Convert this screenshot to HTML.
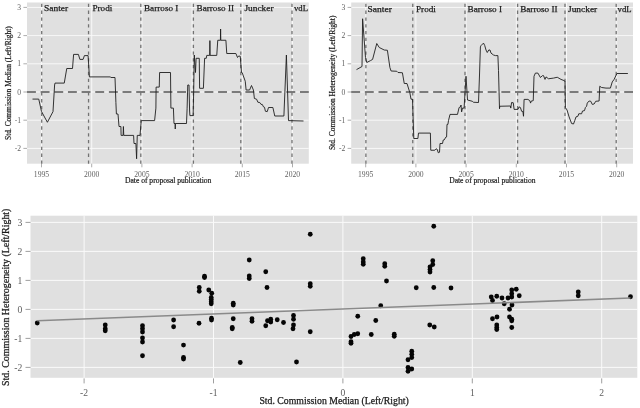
<!DOCTYPE html>
<html><head><meta charset="utf-8"><title>Commission plots</title>
<style>html,body{margin:0;padding:0;background:#fff;}svg{display:block;}text{font-family:"Liberation Serif",serif;}</style>
</head><body>
<svg width="640" height="408" viewBox="0 0 640 408">
<rect x="0" y="0" width="640" height="408" fill="#ffffff"/>
<g opacity="0.999">
<g>
<rect x="27.00" y="2.5" width="281.80" height="161.20" fill="#e0e0e0"/>
<line x1="27.00" x2="308.80" y1="7.40" y2="7.40" stroke="#fafafa" stroke-width="0.9"/>
<line x1="23.40" x2="27.00" y1="7.40" y2="7.40" stroke="#757575" stroke-width="0.6"/>
<text x="21.10" y="9.95" font-size="7.6" fill="#5f5f5f" text-anchor="end">3</text>
<line x1="27.00" x2="308.80" y1="35.60" y2="35.60" stroke="#fafafa" stroke-width="0.9"/>
<line x1="23.40" x2="27.00" y1="35.60" y2="35.60" stroke="#757575" stroke-width="0.6"/>
<text x="21.10" y="38.15" font-size="7.6" fill="#5f5f5f" text-anchor="end">2</text>
<line x1="27.00" x2="308.80" y1="63.80" y2="63.80" stroke="#fafafa" stroke-width="0.9"/>
<line x1="23.40" x2="27.00" y1="63.80" y2="63.80" stroke="#757575" stroke-width="0.6"/>
<text x="21.10" y="66.35" font-size="7.6" fill="#5f5f5f" text-anchor="end">1</text>
<line x1="27.00" x2="308.80" y1="92.00" y2="92.00" stroke="#fafafa" stroke-width="0.9"/>
<line x1="23.40" x2="27.00" y1="92.00" y2="92.00" stroke="#757575" stroke-width="0.6"/>
<text x="21.10" y="94.55" font-size="7.6" fill="#5f5f5f" text-anchor="end">0</text>
<line x1="27.00" x2="308.80" y1="120.20" y2="120.20" stroke="#fafafa" stroke-width="0.9"/>
<line x1="23.40" x2="27.00" y1="120.20" y2="120.20" stroke="#757575" stroke-width="0.6"/>
<text x="21.10" y="122.75" font-size="7.6" fill="#5f5f5f" text-anchor="end">-1</text>
<line x1="27.00" x2="308.80" y1="148.40" y2="148.40" stroke="#fafafa" stroke-width="0.9"/>
<line x1="23.40" x2="27.00" y1="148.40" y2="148.40" stroke="#757575" stroke-width="0.6"/>
<text x="21.10" y="150.95" font-size="7.6" fill="#5f5f5f" text-anchor="end">-2</text>
<line x1="41.50" x2="41.50" y1="2.5" y2="163.7" stroke="#fafafa" stroke-width="0.9"/>
<line x1="41.50" x2="41.50" y1="163.7" y2="167.30" stroke="#757575" stroke-width="0.6"/>
<text x="41.50" y="176.5" font-size="7.6" fill="#5f5f5f" text-anchor="middle" textLength="15.3" lengthAdjust="spacingAndGlyphs">1995</text>
<line x1="91.70" x2="91.70" y1="2.5" y2="163.7" stroke="#fafafa" stroke-width="0.9"/>
<line x1="91.70" x2="91.70" y1="163.7" y2="167.30" stroke="#757575" stroke-width="0.6"/>
<text x="91.70" y="176.5" font-size="7.6" fill="#5f5f5f" text-anchor="middle" textLength="15.3" lengthAdjust="spacingAndGlyphs">2000</text>
<line x1="141.90" x2="141.90" y1="2.5" y2="163.7" stroke="#fafafa" stroke-width="0.9"/>
<line x1="141.90" x2="141.90" y1="163.7" y2="167.30" stroke="#757575" stroke-width="0.6"/>
<text x="141.90" y="176.5" font-size="7.6" fill="#5f5f5f" text-anchor="middle" textLength="15.3" lengthAdjust="spacingAndGlyphs">2005</text>
<line x1="192.10" x2="192.10" y1="2.5" y2="163.7" stroke="#fafafa" stroke-width="0.9"/>
<line x1="192.10" x2="192.10" y1="163.7" y2="167.30" stroke="#757575" stroke-width="0.6"/>
<text x="192.10" y="176.5" font-size="7.6" fill="#5f5f5f" text-anchor="middle" textLength="15.3" lengthAdjust="spacingAndGlyphs">2010</text>
<line x1="242.30" x2="242.30" y1="2.5" y2="163.7" stroke="#fafafa" stroke-width="0.9"/>
<line x1="242.30" x2="242.30" y1="163.7" y2="167.30" stroke="#757575" stroke-width="0.6"/>
<text x="242.30" y="176.5" font-size="7.6" fill="#5f5f5f" text-anchor="middle" textLength="15.3" lengthAdjust="spacingAndGlyphs">2015</text>
<line x1="292.50" x2="292.50" y1="2.5" y2="163.7" stroke="#fafafa" stroke-width="0.9"/>
<line x1="292.50" x2="292.50" y1="163.7" y2="167.30" stroke="#757575" stroke-width="0.6"/>
<text x="292.50" y="176.5" font-size="7.6" fill="#5f5f5f" text-anchor="middle" textLength="15.3" lengthAdjust="spacingAndGlyphs">2020</text>
<line x1="27.00" x2="308.80" y1="92.0" y2="92.0" stroke="#555555" stroke-width="1.3" stroke-dasharray="8.9 4.75"/>
<line x1="41.70" x2="41.70" y1="163.7" y2="2.5" stroke="#737373" stroke-width="1.3" stroke-dasharray="3.3 3.51"/>
<line x1="88.55" x2="88.55" y1="163.7" y2="2.5" stroke="#737373" stroke-width="1.3" stroke-dasharray="3.3 3.51"/>
<line x1="140.80" x2="140.80" y1="163.7" y2="2.5" stroke="#737373" stroke-width="1.3" stroke-dasharray="3.3 3.51"/>
<line x1="193.40" x2="193.40" y1="163.7" y2="2.5" stroke="#737373" stroke-width="1.3" stroke-dasharray="3.3 3.51"/>
<line x1="240.80" x2="240.80" y1="163.7" y2="2.5" stroke="#737373" stroke-width="1.3" stroke-dasharray="3.3 3.51"/>
<line x1="292.00" x2="292.00" y1="163.7" y2="2.5" stroke="#737373" stroke-width="1.3" stroke-dasharray="3.3 3.51"/>
<polyline points="32.5,99.1 38.75,99.1 41.5,111.5 47.4,122.25 53,111.6 54.6,85 55,83.1 64.25,83.1 66.75,68.5 72.5,68.5 73.6,54.4 78.4,54.4 79.9,59.4 83.1,59.4 84.4,55.6 88.1,55.6 89.4,76.9 110.25,76.9 110.9,77.5 115,77.5 115.9,102.5 116.4,114 118,114 119,126.5 120.9,126.5 121.1,135.4 123.1,135.4 123.4,126.5 123.75,135.4 133.6,135.4 134,143.5 135.9,143.5 136.6,158.75 137.25,135.4 140,135.4 141.25,120.6 154.6,120.6 155.9,108.1 156.1,87.1 159.25,87.1 159.6,72.5 170.5,72.5 170.9,108.1 173.4,108.1 174,123.5 175.1,123.5 175.25,129 175.4,123.5 186.5,123.5 187.1,108.75 187.75,85 189,85 189.6,111 189.9,115.6 193.1,115.6 193.6,95 194.3,55 195.5,72.5 196.1,58.3 199.25,58.3 199.6,88.3 203.4,88.3 204.6,58.3 206.25,58.3 206.75,55.4 209.7,55.4 209.9,40.6 210.1,55.4 216.75,55.4 217.75,40.25 220.4,40.25 220.6,29 220.8,40.25 225.9,40.25 226.75,53.5 235.9,53.5 237.5,57.5 238.6,56 240.25,56.25 241.5,72.5 242.1,72.5 245.25,81.25 246.1,90 249.6,90 251.5,85.5 253.4,90 254.4,98.5 256.6,99.2 257.9,102.25 259.75,102.5 261,104.4 262.25,104.4 263.5,106.9 264.5,107.25 265.4,111.25 267.25,111.6 268.5,107.5 272.9,107.5 274.75,116 283.9,116 286.4,55 288.5,120.6 303.5,121" fill="none" stroke="#1e1e1e" stroke-width="0.9" stroke-linejoin="round"/>
<text x="44.00" y="11.1" font-size="9.1" fill="#1a1a1a" stroke="#1a1a1a" stroke-width="0.25" textLength="24.2" lengthAdjust="spacingAndGlyphs">Santer</text>
<text x="92.40" y="11.1" font-size="9.1" fill="#1a1a1a" stroke="#1a1a1a" stroke-width="0.25" textLength="19.9" lengthAdjust="spacingAndGlyphs">Prodi</text>
<text x="144.00" y="11.1" font-size="9.1" fill="#1a1a1a" stroke="#1a1a1a" stroke-width="0.25" textLength="34.4" lengthAdjust="spacingAndGlyphs">Barroso I</text>
<text x="196.60" y="11.1" font-size="9.1" fill="#1a1a1a" stroke="#1a1a1a" stroke-width="0.25" textLength="37.4" lengthAdjust="spacingAndGlyphs">Barroso II</text>
<text x="244.40" y="11.1" font-size="9.1" fill="#1a1a1a" stroke="#1a1a1a" stroke-width="0.25" textLength="29.2" lengthAdjust="spacingAndGlyphs">Juncker</text>
<text x="294.00" y="11.1" font-size="9.1" fill="#1a1a1a" stroke="#1a1a1a" stroke-width="0.25" textLength="14.0" lengthAdjust="spacingAndGlyphs">vdL</text>
<text x="125.00" y="183.3" font-size="7.6" fill="#1a1a1a" stroke="#1a1a1a" stroke-width="0.2" textLength="86.3" lengthAdjust="spacingAndGlyphs">Date of proposal publication</text>
<text transform="translate(10.55,140.00) rotate(-90)" font-size="7.6" fill="#1a1a1a" stroke="#1a1a1a" stroke-width="0.2" textLength="113.7" lengthAdjust="spacingAndGlyphs">Std. Commission Median (Left/Right)</text>
</g>
<g>
<rect x="351.20" y="2.5" width="281.80" height="161.20" fill="#e0e0e0"/>
<line x1="351.20" x2="633.00" y1="7.40" y2="7.40" stroke="#fafafa" stroke-width="0.9"/>
<line x1="347.60" x2="351.20" y1="7.40" y2="7.40" stroke="#757575" stroke-width="0.6"/>
<text x="345.30" y="9.95" font-size="7.6" fill="#5f5f5f" text-anchor="end">3</text>
<line x1="351.20" x2="633.00" y1="35.60" y2="35.60" stroke="#fafafa" stroke-width="0.9"/>
<line x1="347.60" x2="351.20" y1="35.60" y2="35.60" stroke="#757575" stroke-width="0.6"/>
<text x="345.30" y="38.15" font-size="7.6" fill="#5f5f5f" text-anchor="end">2</text>
<line x1="351.20" x2="633.00" y1="63.80" y2="63.80" stroke="#fafafa" stroke-width="0.9"/>
<line x1="347.60" x2="351.20" y1="63.80" y2="63.80" stroke="#757575" stroke-width="0.6"/>
<text x="345.30" y="66.35" font-size="7.6" fill="#5f5f5f" text-anchor="end">1</text>
<line x1="351.20" x2="633.00" y1="92.00" y2="92.00" stroke="#fafafa" stroke-width="0.9"/>
<line x1="347.60" x2="351.20" y1="92.00" y2="92.00" stroke="#757575" stroke-width="0.6"/>
<text x="345.30" y="94.55" font-size="7.6" fill="#5f5f5f" text-anchor="end">0</text>
<line x1="351.20" x2="633.00" y1="120.20" y2="120.20" stroke="#fafafa" stroke-width="0.9"/>
<line x1="347.60" x2="351.20" y1="120.20" y2="120.20" stroke="#757575" stroke-width="0.6"/>
<text x="345.30" y="122.75" font-size="7.6" fill="#5f5f5f" text-anchor="end">-1</text>
<line x1="351.20" x2="633.00" y1="148.40" y2="148.40" stroke="#fafafa" stroke-width="0.9"/>
<line x1="347.60" x2="351.20" y1="148.40" y2="148.40" stroke="#757575" stroke-width="0.6"/>
<text x="345.30" y="150.95" font-size="7.6" fill="#5f5f5f" text-anchor="end">-2</text>
<line x1="365.70" x2="365.70" y1="2.5" y2="163.7" stroke="#fafafa" stroke-width="0.9"/>
<line x1="365.70" x2="365.70" y1="163.7" y2="167.30" stroke="#757575" stroke-width="0.6"/>
<text x="365.70" y="176.5" font-size="7.6" fill="#5f5f5f" text-anchor="middle" textLength="15.3" lengthAdjust="spacingAndGlyphs">1995</text>
<line x1="415.90" x2="415.90" y1="2.5" y2="163.7" stroke="#fafafa" stroke-width="0.9"/>
<line x1="415.90" x2="415.90" y1="163.7" y2="167.30" stroke="#757575" stroke-width="0.6"/>
<text x="415.90" y="176.5" font-size="7.6" fill="#5f5f5f" text-anchor="middle" textLength="15.3" lengthAdjust="spacingAndGlyphs">2000</text>
<line x1="466.10" x2="466.10" y1="2.5" y2="163.7" stroke="#fafafa" stroke-width="0.9"/>
<line x1="466.10" x2="466.10" y1="163.7" y2="167.30" stroke="#757575" stroke-width="0.6"/>
<text x="466.10" y="176.5" font-size="7.6" fill="#5f5f5f" text-anchor="middle" textLength="15.3" lengthAdjust="spacingAndGlyphs">2005</text>
<line x1="516.30" x2="516.30" y1="2.5" y2="163.7" stroke="#fafafa" stroke-width="0.9"/>
<line x1="516.30" x2="516.30" y1="163.7" y2="167.30" stroke="#757575" stroke-width="0.6"/>
<text x="516.30" y="176.5" font-size="7.6" fill="#5f5f5f" text-anchor="middle" textLength="15.3" lengthAdjust="spacingAndGlyphs">2010</text>
<line x1="566.50" x2="566.50" y1="2.5" y2="163.7" stroke="#fafafa" stroke-width="0.9"/>
<line x1="566.50" x2="566.50" y1="163.7" y2="167.30" stroke="#757575" stroke-width="0.6"/>
<text x="566.50" y="176.5" font-size="7.6" fill="#5f5f5f" text-anchor="middle" textLength="15.3" lengthAdjust="spacingAndGlyphs">2015</text>
<line x1="616.70" x2="616.70" y1="2.5" y2="163.7" stroke="#fafafa" stroke-width="0.9"/>
<line x1="616.70" x2="616.70" y1="163.7" y2="167.30" stroke="#757575" stroke-width="0.6"/>
<text x="616.70" y="176.5" font-size="7.6" fill="#5f5f5f" text-anchor="middle" textLength="15.3" lengthAdjust="spacingAndGlyphs">2020</text>
<line x1="351.20" x2="633.00" y1="92.0" y2="92.0" stroke="#555555" stroke-width="1.3" stroke-dasharray="8.9 4.75"/>
<line x1="365.90" x2="365.90" y1="163.7" y2="2.5" stroke="#737373" stroke-width="1.3" stroke-dasharray="3.3 3.51"/>
<line x1="412.75" x2="412.75" y1="163.7" y2="2.5" stroke="#737373" stroke-width="1.3" stroke-dasharray="3.3 3.51"/>
<line x1="465.00" x2="465.00" y1="163.7" y2="2.5" stroke="#737373" stroke-width="1.3" stroke-dasharray="3.3 3.51"/>
<line x1="517.60" x2="517.60" y1="163.7" y2="2.5" stroke="#737373" stroke-width="1.3" stroke-dasharray="3.3 3.51"/>
<line x1="565.00" x2="565.00" y1="163.7" y2="2.5" stroke="#737373" stroke-width="1.3" stroke-dasharray="3.3 3.51"/>
<line x1="616.20" x2="616.20" y1="163.7" y2="2.5" stroke="#737373" stroke-width="1.3" stroke-dasharray="3.3 3.51"/>
<polyline points="356.5,69.6 362,66.5 362.6,18.75 365.5,57.5 366.75,62.5 370.5,60.6 372.6,59.4 376.75,43.5 379.25,47.5 384.25,50 387.4,50.25 389.9,67.5 391.1,71 396.75,71.25 398,72.5 402.4,72.75 404.25,83.5 407,83.5 409.8,92.5 411,99.2 412.5,99.2 413.5,130 413.75,138.5 417.9,138.5 418.5,133.1 430.4,133.1 430.75,150.25 434.75,150.25 436,148.75 437.25,149.4 438.25,152.75 439.5,152.25 440,143.5 442.5,143.5 443.25,140 444.1,140 446,136.9 446.6,136.9 447,124.4 447.9,124.4 448.5,120.6 450,114.4 457.5,114.4 459.1,107.5 460.4,106.9 461,105 461.6,111.9 462.5,108.1 464.1,108.1 466,76.25 467.5,100 472.25,101.25 473.5,102.25 478.5,102.5 479.5,75 480.4,46.9 481,45.6 483.5,43.1 484.75,45.6 486,50 487.25,52.5 488.75,50 490,50 491,53.1 493.5,55 495.4,55.6 497.9,55.6 498.5,70.6 499.5,108.75 499.75,106.25 510.4,106 510.75,108.1 511.6,102.5 513.25,102.75 514.1,109.4 517.9,109.4 519.1,106.9 520.4,107.5 521.6,111.25 522.9,111.5 523.5,116.25 524.1,99.4 527.9,99.4 529.75,100.6 530.6,103.1 531,101.25 533.25,100.6 534,76.25 535.4,73.1 537.9,73.1 540.4,77.5 542.5,75.6 543.5,75.6 545,79.4 546,76.9 548.5,78.75 553.5,78.1 557.25,77.25 561,79.4 564.1,80.6 565,81.25 565.4,107.5 567,110 569.1,116.9 571.6,123.5 573.5,124 574.75,120.6 576,116.9 577.9,116.25 578.75,113.75 581.6,113.75 582.5,111 584.5,110.6 585.4,107.5 586.6,106.25 587.25,103.1 589.1,101 590.75,101.25 592.25,104.4 594.1,104 595.75,101.25 599.1,101 599.75,86.25 601.6,87.5 606,88.1 610.4,88.1 612.25,81.9 614.1,79.4 616.9,73.5 627.9,73.5" fill="none" stroke="#1e1e1e" stroke-width="0.9" stroke-linejoin="round"/>
<text x="367.60" y="11.8" font-size="9.1" fill="#1a1a1a" stroke="#1a1a1a" stroke-width="0.25" textLength="24.2" lengthAdjust="spacingAndGlyphs">Santer</text>
<text x="416.00" y="11.8" font-size="9.1" fill="#1a1a1a" stroke="#1a1a1a" stroke-width="0.25" textLength="19.9" lengthAdjust="spacingAndGlyphs">Prodi</text>
<text x="467.60" y="11.8" font-size="9.1" fill="#1a1a1a" stroke="#1a1a1a" stroke-width="0.25" textLength="34.4" lengthAdjust="spacingAndGlyphs">Barroso I</text>
<text x="520.20" y="11.8" font-size="9.1" fill="#1a1a1a" stroke="#1a1a1a" stroke-width="0.25" textLength="37.4" lengthAdjust="spacingAndGlyphs">Barroso II</text>
<text x="568.00" y="11.8" font-size="9.1" fill="#1a1a1a" stroke="#1a1a1a" stroke-width="0.25" textLength="29.2" lengthAdjust="spacingAndGlyphs">Juncker</text>
<text x="617.60" y="11.8" font-size="9.1" fill="#1a1a1a" stroke="#1a1a1a" stroke-width="0.25" textLength="14.0" lengthAdjust="spacingAndGlyphs">vdL</text>
<text x="449.20" y="183.3" font-size="7.6" fill="#1a1a1a" stroke="#1a1a1a" stroke-width="0.2" textLength="86.3" lengthAdjust="spacingAndGlyphs">Date of proposal publication</text>
<text transform="translate(335.10,150.10) rotate(-90)" font-size="7.6" fill="#1a1a1a" stroke="#1a1a1a" stroke-width="0.2" textLength="134.5" lengthAdjust="spacingAndGlyphs">Std. Commission Heterogeneity (Left/Right)</text>
</g>
<g>
<rect x="30.5" y="215.7" width="606.80" height="162.10" fill="#e0e0e0"/>
<line x1="30.5" x2="637.3" y1="222.40" y2="222.40" stroke="#fafafa" stroke-width="1.0"/>
<line x1="25.50" x2="30.5" y1="222.40" y2="222.40" stroke="#757575" stroke-width="0.7"/>
<text x="22.20" y="225.60" font-size="9.6" fill="#5f5f5f" text-anchor="end">3</text>
<line x1="30.5" x2="637.3" y1="251.40" y2="251.40" stroke="#fafafa" stroke-width="1.0"/>
<line x1="25.50" x2="30.5" y1="251.40" y2="251.40" stroke="#757575" stroke-width="0.7"/>
<text x="22.20" y="254.60" font-size="9.6" fill="#5f5f5f" text-anchor="end">2</text>
<line x1="30.5" x2="637.3" y1="280.40" y2="280.40" stroke="#fafafa" stroke-width="1.0"/>
<line x1="25.50" x2="30.5" y1="280.40" y2="280.40" stroke="#757575" stroke-width="0.7"/>
<text x="22.20" y="283.60" font-size="9.6" fill="#5f5f5f" text-anchor="end">1</text>
<line x1="30.5" x2="637.3" y1="309.40" y2="309.40" stroke="#fafafa" stroke-width="1.0"/>
<line x1="25.50" x2="30.5" y1="309.40" y2="309.40" stroke="#757575" stroke-width="0.7"/>
<text x="22.20" y="312.60" font-size="9.6" fill="#5f5f5f" text-anchor="end">0</text>
<line x1="30.5" x2="637.3" y1="338.40" y2="338.40" stroke="#fafafa" stroke-width="1.0"/>
<line x1="25.50" x2="30.5" y1="338.40" y2="338.40" stroke="#757575" stroke-width="0.7"/>
<text x="22.20" y="341.60" font-size="9.6" fill="#5f5f5f" text-anchor="end">-1</text>
<line x1="30.5" x2="637.3" y1="367.40" y2="367.40" stroke="#fafafa" stroke-width="1.0"/>
<line x1="25.50" x2="30.5" y1="367.40" y2="367.40" stroke="#757575" stroke-width="0.7"/>
<text x="22.20" y="370.60" font-size="9.6" fill="#5f5f5f" text-anchor="end">-2</text>
<line x1="84.10" x2="84.10" y1="215.7" y2="377.8" stroke="#fafafa" stroke-width="1.0"/>
<line x1="84.10" x2="84.10" y1="378.40" y2="383.40" stroke="#757575" stroke-width="0.7"/>
<text x="84.10" y="395.6" font-size="9.6" fill="#5f5f5f" text-anchor="middle">-2</text>
<line x1="213.50" x2="213.50" y1="215.7" y2="377.8" stroke="#fafafa" stroke-width="1.0"/>
<line x1="213.50" x2="213.50" y1="378.40" y2="383.40" stroke="#757575" stroke-width="0.7"/>
<text x="213.50" y="395.6" font-size="9.6" fill="#5f5f5f" text-anchor="middle">-1</text>
<line x1="342.90" x2="342.90" y1="215.7" y2="377.8" stroke="#fafafa" stroke-width="1.0"/>
<line x1="342.90" x2="342.90" y1="378.40" y2="383.40" stroke="#757575" stroke-width="0.7"/>
<text x="342.90" y="395.6" font-size="9.6" fill="#5f5f5f" text-anchor="middle">0</text>
<line x1="472.30" x2="472.30" y1="215.7" y2="377.8" stroke="#fafafa" stroke-width="1.0"/>
<line x1="472.30" x2="472.30" y1="378.40" y2="383.40" stroke="#757575" stroke-width="0.7"/>
<text x="472.30" y="395.6" font-size="9.6" fill="#5f5f5f" text-anchor="middle">1</text>
<line x1="601.70" x2="601.70" y1="215.7" y2="377.8" stroke="#fafafa" stroke-width="1.0"/>
<line x1="601.70" x2="601.70" y1="378.40" y2="383.40" stroke="#757575" stroke-width="0.7"/>
<text x="601.70" y="395.6" font-size="9.6" fill="#5f5f5f" text-anchor="middle">2</text>
<circle cx="37.25" cy="323" r="2.4" fill="#050505"/>
<circle cx="105.25" cy="325" r="2.4" fill="#050505"/>
<circle cx="105.25" cy="328.75" r="2.4" fill="#050505"/>
<circle cx="105.25" cy="330.75" r="2.4" fill="#050505"/>
<circle cx="142.5" cy="325.75" r="2.4" fill="#050505"/>
<circle cx="142.5" cy="328.75" r="2.4" fill="#050505"/>
<circle cx="142.5" cy="332" r="2.4" fill="#050505"/>
<circle cx="142.5" cy="338" r="2.4" fill="#050505"/>
<circle cx="142.5" cy="342" r="2.4" fill="#050505"/>
<circle cx="142.5" cy="355.75" r="2.4" fill="#050505"/>
<circle cx="173.6" cy="320" r="2.4" fill="#050505"/>
<circle cx="173.6" cy="326.75" r="2.4" fill="#050505"/>
<circle cx="183.5" cy="345.1" r="2.4" fill="#050505"/>
<circle cx="183.5" cy="357.5" r="2.4" fill="#050505"/>
<circle cx="183.5" cy="359" r="2.4" fill="#050505"/>
<circle cx="310.25" cy="234.25" r="2.4" fill="#050505"/>
<circle cx="249.25" cy="260" r="2.4" fill="#050505"/>
<circle cx="265.75" cy="271.75" r="2.4" fill="#050505"/>
<circle cx="204.5" cy="276.25" r="2.4" fill="#050505"/>
<circle cx="204.5" cy="277.5" r="2.4" fill="#050505"/>
<circle cx="249.25" cy="276" r="2.4" fill="#050505"/>
<circle cx="249.25" cy="278.5" r="2.4" fill="#050505"/>
<circle cx="310.25" cy="283.75" r="2.4" fill="#050505"/>
<circle cx="310.25" cy="286.25" r="2.4" fill="#050505"/>
<circle cx="199.25" cy="287.5" r="2.4" fill="#050505"/>
<circle cx="199.25" cy="291.25" r="2.4" fill="#050505"/>
<circle cx="267" cy="287.5" r="2.4" fill="#050505"/>
<circle cx="208.75" cy="290" r="2.4" fill="#050505"/>
<circle cx="211.75" cy="293.25" r="2.4" fill="#050505"/>
<circle cx="211.25" cy="297.5" r="2.4" fill="#050505"/>
<circle cx="211.25" cy="299.5" r="2.4" fill="#050505"/>
<circle cx="211.25" cy="301.75" r="2.4" fill="#050505"/>
<circle cx="211.25" cy="303.75" r="2.4" fill="#050505"/>
<circle cx="233.25" cy="303.25" r="2.4" fill="#050505"/>
<circle cx="233.25" cy="305" r="2.4" fill="#050505"/>
<circle cx="199" cy="323.25" r="2.4" fill="#050505"/>
<circle cx="211.5" cy="318.25" r="2.4" fill="#050505"/>
<circle cx="211.5" cy="320" r="2.4" fill="#050505"/>
<circle cx="233.25" cy="318.75" r="2.4" fill="#050505"/>
<circle cx="232.25" cy="327.5" r="2.4" fill="#050505"/>
<circle cx="232.25" cy="328.75" r="2.4" fill="#050505"/>
<circle cx="252" cy="318.75" r="2.4" fill="#050505"/>
<circle cx="252" cy="321.25" r="2.4" fill="#050505"/>
<circle cx="265.75" cy="325.75" r="2.4" fill="#050505"/>
<circle cx="267.5" cy="320.75" r="2.4" fill="#050505"/>
<circle cx="270.75" cy="319.25" r="2.4" fill="#050505"/>
<circle cx="270.75" cy="322" r="2.4" fill="#050505"/>
<circle cx="277.25" cy="319.75" r="2.4" fill="#050505"/>
<circle cx="283.5" cy="322.5" r="2.4" fill="#050505"/>
<circle cx="293.5" cy="315.5" r="2.4" fill="#050505"/>
<circle cx="293.5" cy="319.25" r="2.4" fill="#050505"/>
<circle cx="293.5" cy="325" r="2.4" fill="#050505"/>
<circle cx="293" cy="328.75" r="2.4" fill="#050505"/>
<circle cx="310.25" cy="331.75" r="2.4" fill="#050505"/>
<circle cx="240.25" cy="362.5" r="2.4" fill="#050505"/>
<circle cx="296.5" cy="362" r="2.4" fill="#050505"/>
<circle cx="433.75" cy="226.25" r="2.4" fill="#050505"/>
<circle cx="363.25" cy="258.75" r="2.4" fill="#050505"/>
<circle cx="363.25" cy="262" r="2.4" fill="#050505"/>
<circle cx="363.25" cy="264.25" r="2.4" fill="#050505"/>
<circle cx="384.75" cy="263.75" r="2.4" fill="#050505"/>
<circle cx="384.75" cy="266.25" r="2.4" fill="#050505"/>
<circle cx="432.75" cy="260.75" r="2.4" fill="#050505"/>
<circle cx="432.75" cy="264.5" r="2.4" fill="#050505"/>
<circle cx="430" cy="267" r="2.4" fill="#050505"/>
<circle cx="430" cy="269.5" r="2.4" fill="#050505"/>
<circle cx="430" cy="272" r="2.4" fill="#050505"/>
<circle cx="386.5" cy="281" r="2.4" fill="#050505"/>
<circle cx="416.25" cy="287.75" r="2.4" fill="#050505"/>
<circle cx="433.75" cy="287.5" r="2.4" fill="#050505"/>
<circle cx="451" cy="288" r="2.4" fill="#050505"/>
<circle cx="380.75" cy="305.75" r="2.4" fill="#050505"/>
<circle cx="357.75" cy="316.25" r="2.4" fill="#050505"/>
<circle cx="375.75" cy="320.5" r="2.4" fill="#050505"/>
<circle cx="429.75" cy="325" r="2.4" fill="#050505"/>
<circle cx="434.25" cy="327" r="2.4" fill="#050505"/>
<circle cx="357.75" cy="333.75" r="2.4" fill="#050505"/>
<circle cx="354.25" cy="334.5" r="2.4" fill="#050505"/>
<circle cx="351" cy="336.5" r="2.4" fill="#050505"/>
<circle cx="371.25" cy="334.5" r="2.4" fill="#050505"/>
<circle cx="394.25" cy="334.25" r="2.4" fill="#050505"/>
<circle cx="394.25" cy="336.25" r="2.4" fill="#050505"/>
<circle cx="351" cy="341.75" r="2.4" fill="#050505"/>
<circle cx="351" cy="343.25" r="2.4" fill="#050505"/>
<circle cx="411.75" cy="351.25" r="2.4" fill="#050505"/>
<circle cx="411.75" cy="354.25" r="2.4" fill="#050505"/>
<circle cx="411.75" cy="357.5" r="2.4" fill="#050505"/>
<circle cx="408" cy="359.75" r="2.4" fill="#050505"/>
<circle cx="408" cy="367.5" r="2.4" fill="#050505"/>
<circle cx="408" cy="371.25" r="2.4" fill="#050505"/>
<circle cx="411.75" cy="369" r="2.4" fill="#050505"/>
<circle cx="630.5" cy="296.75" r="2.4" fill="#050505"/>
<circle cx="578.25" cy="292" r="2.4" fill="#050505"/>
<circle cx="578.25" cy="295.75" r="2.4" fill="#050505"/>
<circle cx="516.25" cy="289.25" r="2.4" fill="#050505"/>
<circle cx="511.75" cy="290" r="2.4" fill="#050505"/>
<circle cx="511.75" cy="293.75" r="2.4" fill="#050505"/>
<circle cx="511.75" cy="297" r="2.4" fill="#050505"/>
<circle cx="519.25" cy="295.75" r="2.4" fill="#050505"/>
<circle cx="491.25" cy="297" r="2.4" fill="#050505"/>
<circle cx="492.5" cy="300.5" r="2.4" fill="#050505"/>
<circle cx="496.75" cy="296.25" r="2.4" fill="#050505"/>
<circle cx="502" cy="298" r="2.4" fill="#050505"/>
<circle cx="508" cy="298" r="2.4" fill="#050505"/>
<circle cx="504.25" cy="303.75" r="2.4" fill="#050505"/>
<circle cx="512" cy="305" r="2.4" fill="#050505"/>
<circle cx="509.5" cy="309.25" r="2.4" fill="#050505"/>
<circle cx="497" cy="317" r="2.4" fill="#050505"/>
<circle cx="492.5" cy="318.75" r="2.4" fill="#050505"/>
<circle cx="509.5" cy="317" r="2.4" fill="#050505"/>
<circle cx="511.75" cy="319.25" r="2.4" fill="#050505"/>
<circle cx="511.75" cy="320.75" r="2.4" fill="#050505"/>
<circle cx="496.75" cy="325" r="2.4" fill="#050505"/>
<circle cx="496.75" cy="327.5" r="2.4" fill="#050505"/>
<circle cx="496.75" cy="329.5" r="2.4" fill="#050505"/>
<circle cx="511.75" cy="327.5" r="2.4" fill="#050505"/>
<line x1="37.25" y1="320.75" x2="630.5" y2="298.0" stroke="#8a8a8a" stroke-width="1.6"/>
<text x="259.4" y="403.6" font-size="10" fill="#1a1a1a" stroke="#1a1a1a" stroke-width="0.25" textLength="149.4" lengthAdjust="spacingAndGlyphs">Std. Commission Median (Left/Right)</text>
<text transform="translate(8.8,386.0) rotate(-90)" font-size="10" fill="#1a1a1a" stroke="#1a1a1a" stroke-width="0.25" textLength="177.4" lengthAdjust="spacingAndGlyphs">Std. Commission Heterogeneity (Left/Right)</text>
</g>
</g>
</svg></body></html>
